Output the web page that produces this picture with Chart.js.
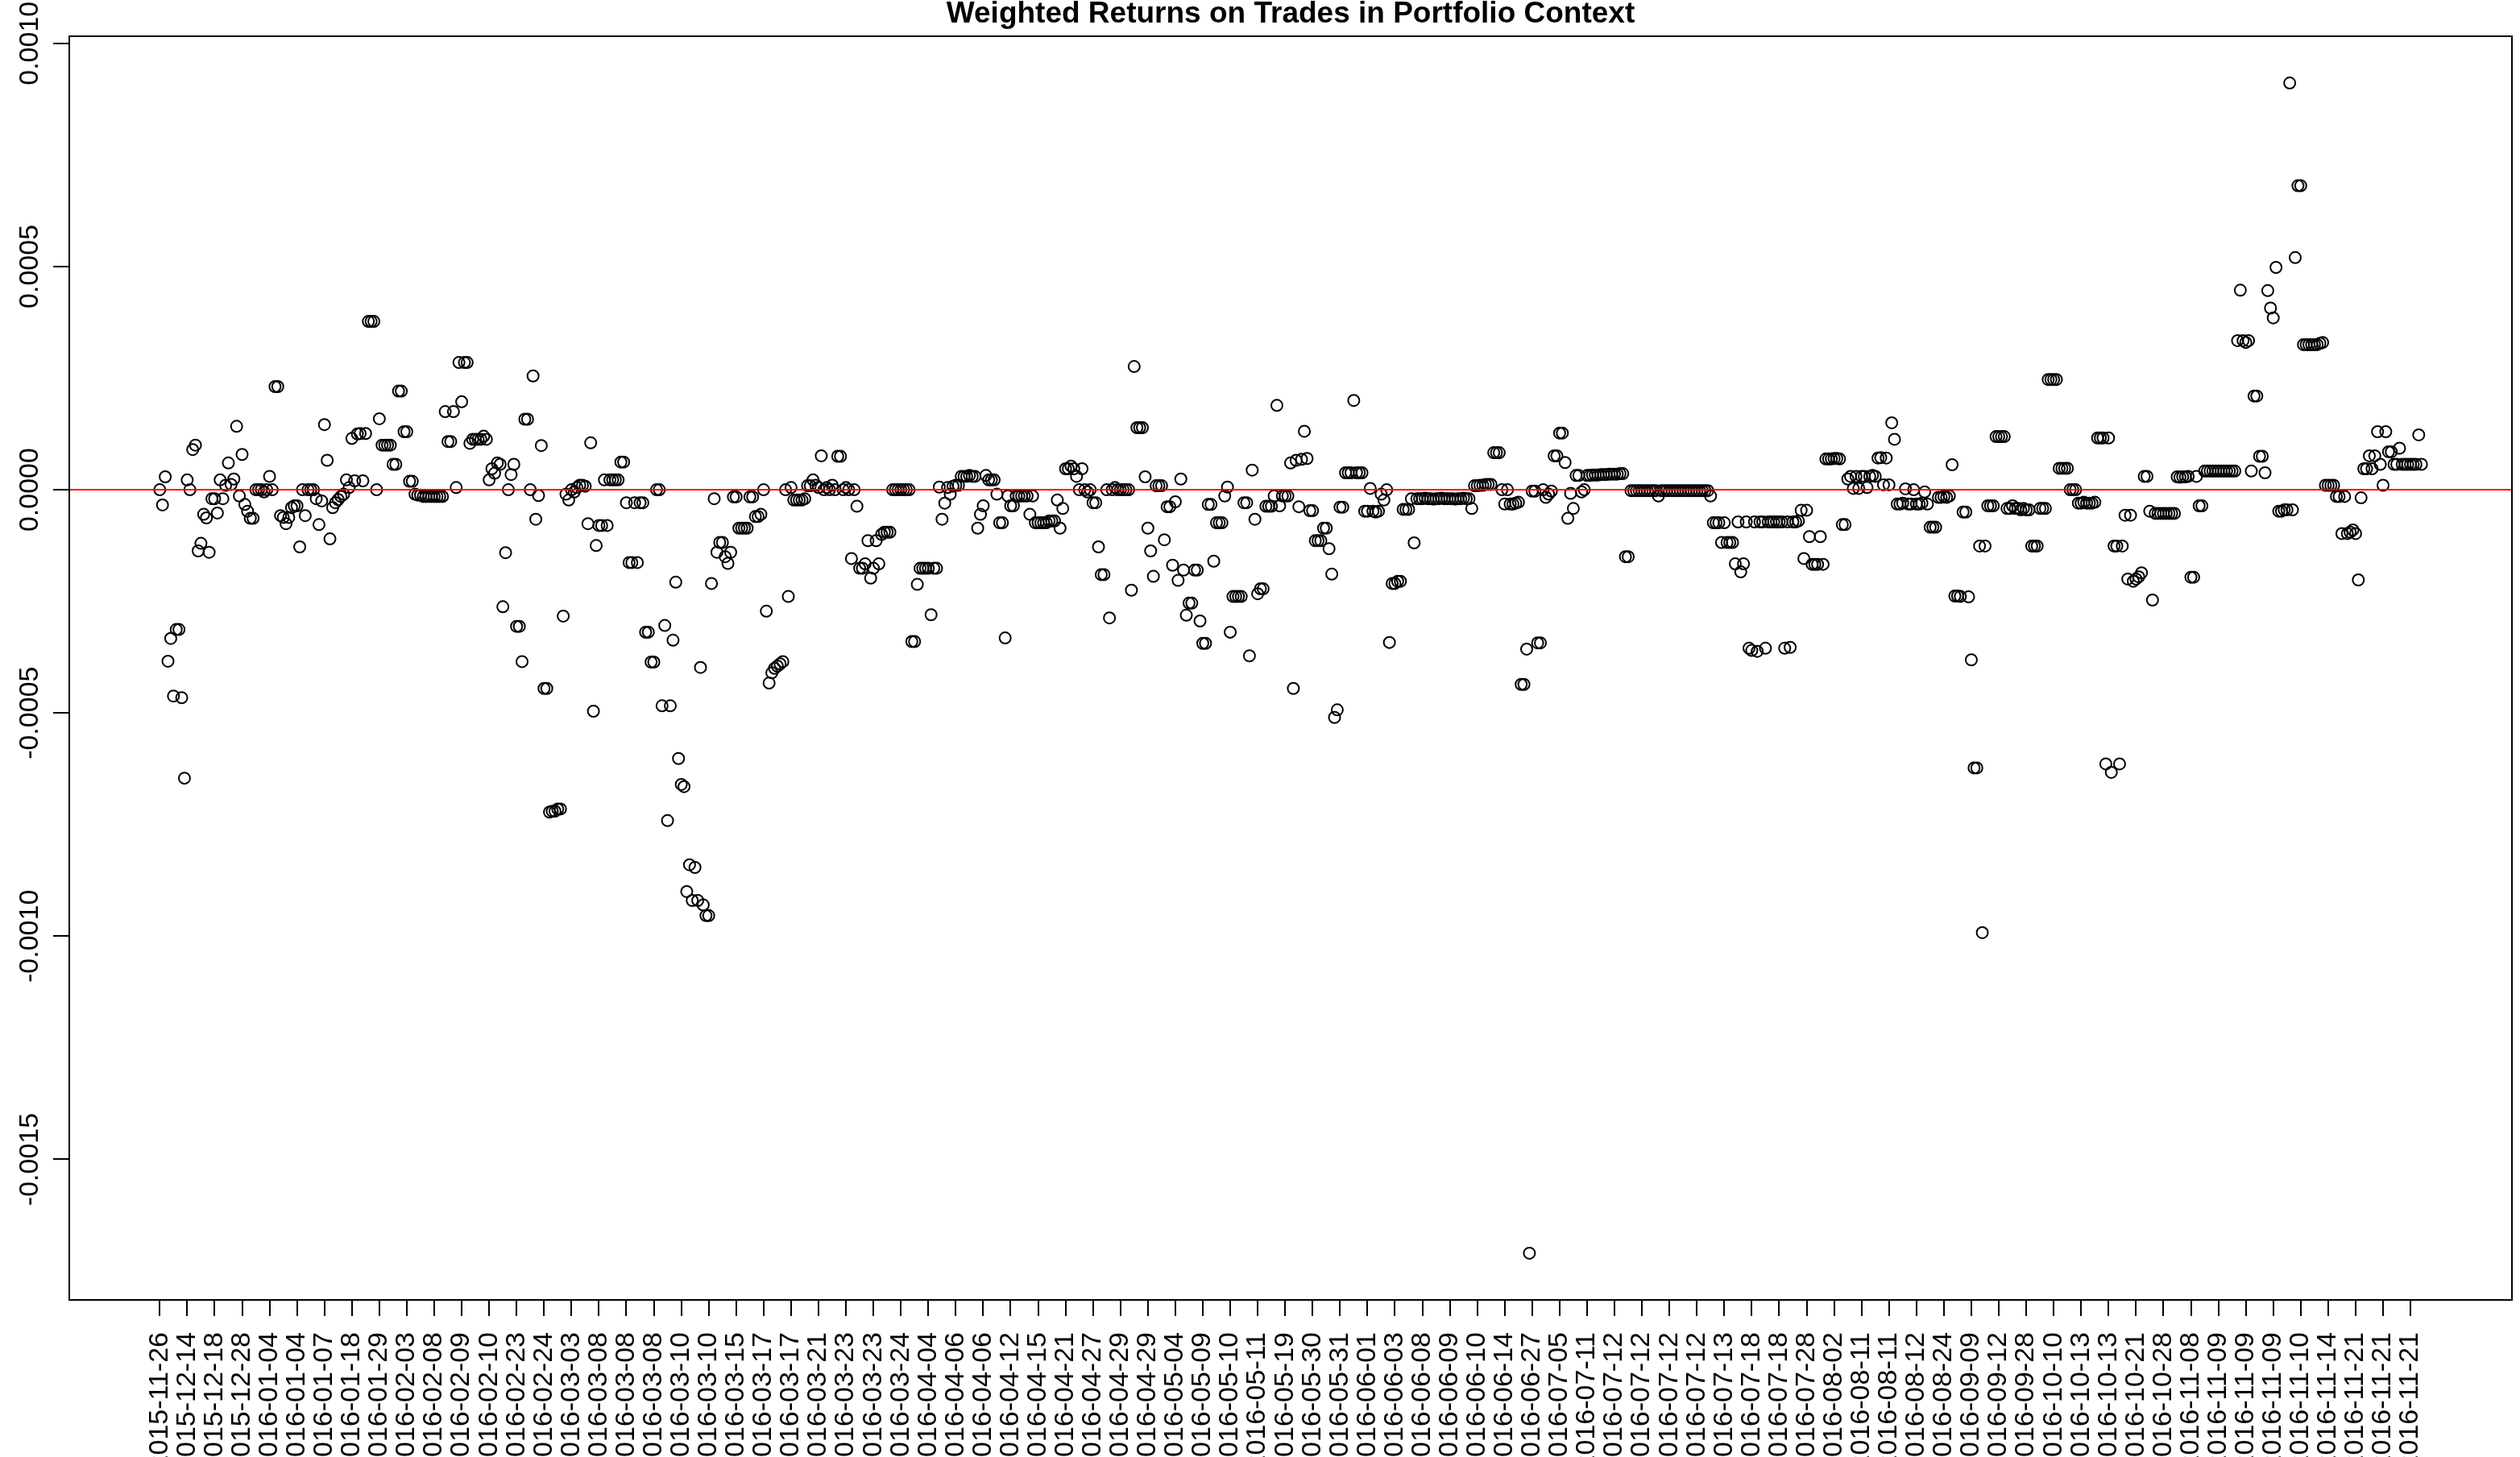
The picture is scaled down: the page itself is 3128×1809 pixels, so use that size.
<!DOCTYPE html>
<html>
<head>
<meta charset="utf-8">
<title>Weighted Returns on Trades in Portfolio Context</title>
<script src="https://cdn.jsdelivr.net/npm/chart.js@4.4.1/dist/chart.umd.min.js"></script>
<style>
  html, body { margin: 0; padding: 0; background: #fff; }
  #wrap { width: 3128px; height: 1809px; }
</style>
</head>
<body>
<div id="wrap"><canvas id="chartReturns" width="3128" height="1809"></canvas></div>
<script>
const chartTitle = 'Weighted Returns on Trades in Portfolio Context';

// x axis labels, one every 10 trades
const tradeDateLabels = [
    '2015-11-26', '2015-12-14', '2015-12-18', '2015-12-28', '2016-01-04', '2016-01-04', '2016-01-07', '2016-01-18', '2016-01-29', '2016-02-03',
    '2016-02-08', '2016-02-09', '2016-02-10', '2016-02-23', '2016-02-24', '2016-03-03', '2016-03-08', '2016-03-08', '2016-03-08', '2016-03-10',
    '2016-03-10', '2016-03-15', '2016-03-17', '2016-03-17', '2016-03-21', '2016-03-23', '2016-03-23', '2016-03-24', '2016-04-04', '2016-04-06',
    '2016-04-06', '2016-04-12', '2016-04-15', '2016-04-21', '2016-04-27', '2016-04-29', '2016-04-29', '2016-05-04', '2016-05-09', '2016-05-10',
    '2016-05-11', '2016-05-19', '2016-05-30', '2016-05-31', '2016-06-01', '2016-06-03', '2016-06-08', '2016-06-09', '2016-06-10', '2016-06-14',
    '2016-06-27', '2016-07-05', '2016-07-11', '2016-07-12', '2016-07-12', '2016-07-12', '2016-07-12', '2016-07-13', '2016-07-18', '2016-07-18',
    '2016-07-28', '2016-08-02', '2016-08-11', '2016-08-11', '2016-08-12', '2016-08-24', '2016-09-09', '2016-09-12', '2016-09-28', '2016-10-10',
    '2016-10-13', '2016-10-13', '2016-10-21', '2016-10-28', '2016-11-08', '2016-11-09', '2016-11-09', '2016-11-09', '2016-11-10', '2016-11-14',
    '2016-11-21', '2016-11-21', '2016-11-21'
];
const labelStep = 10;

const yTickValues = [-0.0015, -0.0010, -0.0005, 0, 0.0005, 0.0010];

// weighted return of each trade, in units of 1e-4
const weightedReturnsE4 = [
    0, -0.34, 0.29, -3.84, -3.33, -4.62, -3.13, -3.13, -4.66, -6.46,
    0.22, 0, 0.9, 1.0, -1.37, -1.2, -0.55, -0.63, -1.4, -0.2,
    -0.2, -0.52, 0.22, -0.2, 0.1, 0.6, 0.12, 0.24, 1.42, -0.14,
    0.79, -0.33, -0.48, -0.64, -0.64, 0, 0, 0, -0.05, 0,
    0.3, 0, 2.31, 2.31, -0.58, -0.62, -0.76, -0.62, -0.4, -0.36,
    -0.36, -1.28, 0, -0.58, 0, 0, 0, -0.2, -0.78, -0.25,
    1.46, 0.66, -1.1, -0.4, -0.29, -0.22, -0.15, -0.1, 0.22, 0.05,
    1.15, 0.2, 1.25, 1.26, 0.2, 1.26, 3.77, 3.77, 3.77, 0,
    // 80
    1.59, 1.0, 1.0, 1.0, 1.0, 0.57, 0.57, 2.21, 2.21, 1.3,
    1.3, 0.19, 0.19, -0.1, -0.12, -0.12, -0.15, -0.15, -0.15, -0.15,
    -0.15, -0.15, -0.15, -0.15, 1.75, 1.08, 1.08, 1.75, 0.05, 2.85,
    1.97, 2.85, 2.85, 1.04, 1.13, 1.13, 1.13, 1.13, 1.2, 1.13,
    0.22, 0.47, 0.37, 0.6, 0.57, -2.62, -1.41, 0, 0.34, 0.57,
    -3.06, -3.06, -3.85, 1.58, 1.58, 0, 2.55, -0.66, -0.13, 0.99,
    -4.45, -4.45, -7.22, -7.2, -7.2, -7.15, -7.15, -2.83, -0.1, -0.23,
    0, -0.05, 0.05, 0.1, 0.1, 0.08, -0.76, 1.05, -4.96, -1.25,
    // 160
    -0.8, -0.8, 0.22, -0.8, 0.22, 0.22, 0.22, 0.22, 0.62, 0.62,
    -0.29, -1.63, -1.63, -0.29, -1.63, -0.29, -0.29, -3.19, -3.19, -3.86,
    -3.86, 0, 0, -4.84, -3.04, -7.41, -4.84, -3.37, -2.07, -6.02,
    -6.6, -6.65, -9.0, -8.4, -9.2, -8.46, -9.2, -3.98, -9.3, -9.54,
    -9.54, -2.1, -0.2, -1.4, -1.18, -1.18, -1.5, -1.65, -1.4, -0.16,
    -0.16, -0.86, -0.86, -0.86, -0.86, -0.16, -0.16, -0.6, -0.6, -0.55,
    0, -2.72, -4.33, -4.1, -4.0, -3.95, -3.9, -3.85, 0, -2.39,
    0.05, -0.23, -0.23, -0.23, -0.23, -0.2, 0.09, 0.09, 0.22, 0.1,
    // 240
    0.05, 0.76, 0, 0.05, 0, 0.1, 0, 0.75, 0.75, 0,
    0.05, 0, -1.54, 0, -0.37, -1.76, -1.76, -1.66, -1.14, -1.98,
    -1.76, -1.14, -1.66, -1.0, -0.95, -0.95, -0.95, 0, 0, 0,
    0, 0, 0, 0, -3.4, -3.4, -2.12, -1.76, -1.76, -1.76,
    -1.76, -2.8, -1.76, -1.76, 0.06, -0.66, -0.3, 0.05, -0.1, 0.08,
    0.1, 0.1, 0.3, 0.3, 0.3, 0.32, 0.3, 0.3, -0.86, -0.55,
    -0.36, 0.32, 0.22, 0.22, 0.22, -0.1, -0.74, -0.74, -3.32, -0.14,
    -0.36, -0.36, -0.14, -0.14, -0.14, -0.14, -0.14, -0.55, -0.14, -0.74,
    // 320
    -0.74, -0.74, -0.74, -0.74, -0.7, -0.7, -0.7, -0.23, -0.86, -0.42,
    0.47, 0.47, 0.53, 0.47, 0.3, 0, 0.47, 0, -0.05, 0,
    -0.29, -0.29, -1.28, -1.9, -1.9, 0, -2.87, 0, 0.05, 0,
    0, 0, 0, 0, -2.25, 2.76, 1.39, 1.39, 1.39, 0.29,
    -0.86, -1.37, -1.94, 0.09, 0.09, 0.09, -1.12, -0.38, -0.38, -1.69,
    -0.27, -2.03, 0.24, -1.8, -2.81, -2.54, -2.54, -1.8, -1.8, -2.94,
    -3.44, -3.44, -0.33, -0.33, -1.6, -0.74, -0.74, -0.74, -0.14, 0.06,
    -3.19, -2.39, -2.39, -2.39, -2.39, -0.29, -0.29, -3.72, 0.44, -0.66,
    // 400
    -2.33, -2.22, -2.22, -0.37, -0.37, -0.37, -0.14, 1.89, -0.36, -0.14,
    -0.14, -0.14, 0.6, -4.45, 0.66, -0.38, 0.68, 1.31, 0.7, -0.47,
    -0.47, -1.14, -1.14, -1.14, -0.86, -0.86, -1.32, -1.89, -5.1, -4.93,
    -0.39, -0.39, 0.38, 0.38, 0.38, 2.0, 0.38, 0.38, 0.38, -0.48,
    -0.48, 0.03, -0.48, -0.5, -0.48, -0.1, -0.23, 0, -3.42, -2.1,
    -2.1, -2.05, -2.05, -0.44, -0.44, -0.44, -0.2, -1.19, -0.2, -0.2,
    -0.2, -0.19, -0.2, -0.2, -0.21, -0.2, -0.2, -0.19, -0.2, -0.2,
    -0.2, -0.2, -0.21, -0.2, -0.2, -0.19, -0.2, -0.2, -0.42, 0.09,
    // 480
    0.09, 0.1, 0.1, 0.12, 0.12, 0.12, 0.83, 0.83, 0.83, 0,
    -0.32, 0, -0.32, -0.32, -0.3, -0.28, -4.36, -4.36, -3.57, -17.1,
    -0.03, -0.03, -3.43, -3.43, 0, -0.17, -0.1, -0.03, 0.76, 0.76,
    1.27, 1.27, 0.61, -0.64, -0.08, -0.42, 0.32, 0.32, -0.05, 0,
    0.32, 0.32, 0.33, 0.33, 0.33, 0.34, 0.34, 0.34, 0.35, 0.35,
    0.35, 0.35, 0.36, 0.36, -1.5, -1.5, -0.02, -0.02, -0.02, -0.02,
    -0.02, -0.02, -0.02, -0.02, -0.02, -0.02, -0.14, -0.02, -0.02, -0.02,
    -0.02, -0.02, -0.02, -0.02, -0.02, -0.02, -0.02, -0.02, -0.02, -0.02,
    // 560
    -0.02, -0.02, -0.02, -0.02, -0.02, -0.14, -0.74, -0.74, -0.74, -1.18,
    -0.74, -1.18, -1.18, -1.18, -1.66, -0.72, -1.84, -1.66, -0.72, -3.55,
    -3.6, -0.72, -3.62, -0.72, -0.72, -3.55, -0.72, -0.72, -0.72, -0.72,
    -0.72, -0.72, -3.55, -0.72, -3.53, -0.72, -0.72, -0.7, -0.46, -1.54,
    -0.46, -1.05, -1.67, -1.67, -1.67, -1.05, -1.67, 0.69, 0.69, 0.69,
    0.7, 0.7, 0.69, -0.78, -0.78, 0.24, 0.3, 0.03, 0.3, 0.03,
    0.3, 0.3, 0.05, 0.3, 0.32, 0.3, 0.71, 0.72, 0.11, 0.71,
    0.11, 1.5, 1.13, -0.32, -0.32, -0.3, 0.02, -0.32, -0.32, 0,
    // 640
    -0.32, -0.32, -0.3, -0.05, -0.32, -0.84, -0.84, -0.84, -0.17, -0.17,
    -0.15, -0.17, -0.14, 0.56, -2.38, -2.38, -2.39, -0.5, -0.5, -2.4,
    -3.81, -6.23, -6.23, -1.26, -9.92, -1.26, -0.36, -0.36, -0.36, 1.19,
    1.19, 1.19, 1.19, -0.42, -0.42, -0.36, -0.42, -0.42, -0.45, -0.42,
    -0.45, -0.45, -1.26, -1.26, -1.26, -0.42, -0.42, -0.42, 2.47, 2.47,
    2.47, 2.47, 0.48, 0.48, 0.48, 0.48, 0, 0, 0, -0.3,
    -0.3, -0.28, -0.3, -0.3, -0.3, -0.28, 1.16, 1.16, 1.16, -6.14,
    1.16, -6.33, -1.26, -1.26, -6.14, -1.26, -0.57, -2.0, -0.57, -2.05,
    // 720
    -2.0, -1.95, -1.86, 0.3, 0.3, -0.48, -2.47, -0.53, -0.53, -0.53,
    -0.53, -0.53, -0.53, -0.53, -0.53, 0.29, 0.28, 0.29, 0.29, 0.3,
    -1.96, -1.96, 0.3, -0.36, -0.36, 0.42, 0.42, 0.42, 0.42, 0.42,
    0.42, 0.42, 0.42, 0.42, 0.42, 0.42, 0.42, 3.34, 4.47, 3.34,
    3.3, 3.34, 0.42, 2.1, 2.1, 0.75, 0.75, 0.38, 4.46, 4.07,
    3.85, 4.98, -0.48, -0.48, -0.45, -0.45, 9.11, -0.45, 5.2, 6.81,
    6.81, 3.25, 3.25, 3.25, 3.25, 3.25, 3.25, 3.28, 3.3, 0.1,
    0.1, 0.1, 0.1, -0.15, -0.15, -0.98, -0.15, -0.98, -0.95, -0.9,
    // 800
    -0.98, -2.02, -0.18, 0.47, 0.47, 0.76, 0.47, 0.76, 1.3, 0.57,
    0.1, 1.3, 0.85, 0.85, 0.57, 0.57, 0.93, 0.57, 0.57, 0.57,
    0.57, 0.57, 0.57, 1.23, 0.57
];

const FONT = '"Liberation Sans", Arial, Helvetica, sans-serif';

// R style: data range padded by 4% on each side
const points = weightedReturnsE4.map((v, i) => ({ x: i, y: v / 10000 }));
const nTrades = weightedReturnsE4.length;
const xPad = (nTrades - 1) * 0.04;
const yLow = Math.min(...weightedReturnsE4) / 10000;
const yHigh = Math.max(...weightedReturnsE4) / 10000;
const yPad = (yHigh - yLow) * 0.04;

// red zero line, box, rotated y labels and title
const rFrame = {
    id: 'rFrame',
    afterDatasetsDraw(chart) {
        const ctx = chart.ctx;
        const a = chart.chartArea;
        const yScale = chart.scales.y;
        const y0 = yScale.getPixelForValue(0);

        ctx.save();
        ctx.beginPath();
        ctx.rect(a.left, a.top, a.right - a.left, a.bottom - a.top);
        ctx.clip();
        ctx.strokeStyle = '#ff0000';
        ctx.lineWidth = 2;
        ctx.beginPath();
        ctx.moveTo(a.left, y0);
        ctx.lineTo(a.right, y0);
        ctx.stroke();
        ctx.restore();

        ctx.save();
        ctx.strokeStyle = '#000';
        ctx.lineWidth = 2;
        ctx.strokeRect(a.left, a.top, a.right - a.left, a.bottom - a.top);

        ctx.fillStyle = '#000';
        ctx.font = '34px ' + FONT;
        ctx.textAlign = 'center';
        ctx.textBaseline = 'alphabetic';
        yScale.ticks.forEach(function(t) {
            const py = yScale.getPixelForValue(t.value);
            ctx.save();
            ctx.translate(a.left - 39, py);
            ctx.rotate(-Math.PI / 2);
            ctx.fillText(t.value.toFixed(4), 0, 0);
            ctx.restore();
        });

        ctx.font = 'bold 37px ' + FONT;
        ctx.fillText(chartTitle, (a.left + a.right) / 2, 28);
        ctx.restore();
    }
};

const ctxReturns = document.getElementById('chartReturns').getContext('2d');
new Chart(ctxReturns, {
    type: 'scatter',
    data: {
        datasets: [{
            data: points,
            pointStyle: 'circle',
            pointRadius: 7,
            pointHoverRadius: 7,
            pointBorderWidth: 2,
            pointBorderColor: '#000',
            pointBackgroundColor: 'rgba(0, 0, 0, 0)'
        }]
    },
    options: {
        responsive: false,
        animation: false,
        devicePixelRatio: 1,
        events: [],
        layout: { padding: { top: 45, right: 10, left: 0, bottom: 0 } },
        plugins: {
            legend: { display: false },
            tooltip: { enabled: false }
        },
        scales: {
            x: {
                type: 'linear',
                min: -xPad,
                max: nTrades - 1 + xPad,
                afterBuildTicks: function(scale) {
                    scale.ticks = tradeDateLabels.map((_, k) => ({ value: k * labelStep }));
                },
                afterFit: function(scale) { scale.height = 195; },
                ticks: {
                    autoSkip: false,
                    minRotation: 90,
                    maxRotation: 90,
                    padding: 20,
                    color: '#000',
                    font: { family: FONT, size: 34 },
                    callback: function(value, index) { return tradeDateLabels[index]; }
                },
                grid: {
                    drawOnChartArea: false,
                    drawTicks: true,
                    tickLength: 20,
                    color: '#000',
                    lineWidth: 2
                },
                border: { display: false }
            },
            y: {
                type: 'linear',
                min: yLow - yPad,
                max: yHigh + yPad,
                afterBuildTicks: function(scale) {
                    scale.ticks = yTickValues.map(v => ({ value: v }));
                },
                afterFit: function(scale) { scale.width = 86; },
                ticks: { display: false },
                grid: {
                    drawOnChartArea: false,
                    drawTicks: true,
                    tickLength: 20,
                    color: '#000',
                    lineWidth: 2
                },
                border: { display: false }
            }
        }
    },
    plugins: [rFrame]
});
</script>
</body>
</html>
